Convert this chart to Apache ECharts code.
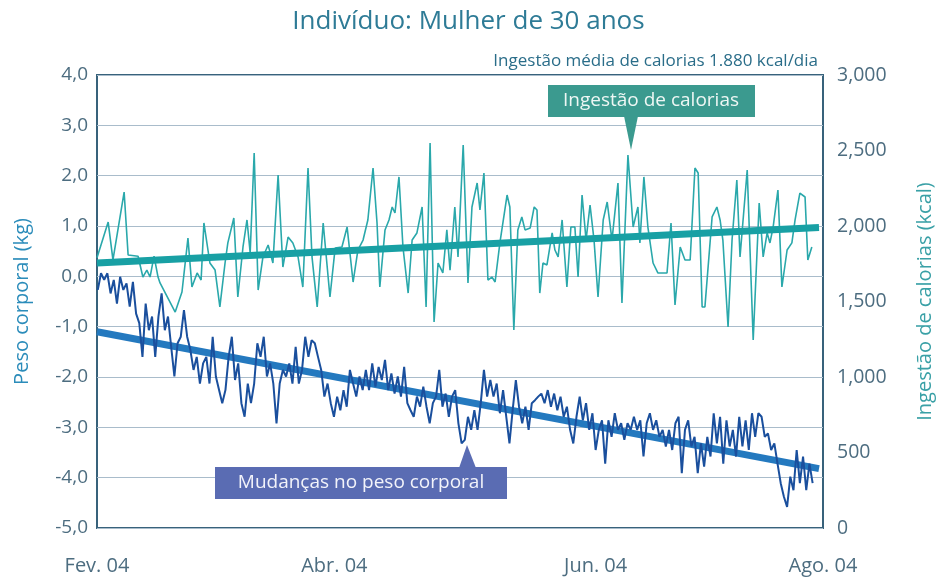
<!DOCTYPE html>
<html>
<head>
<meta charset="utf-8">
<script src="https://cdn.jsdelivr.net/npm/echarts@6/dist/echarts.min.js"></script>
<style>html,body{margin:0;padding:0;background:#fff}#c{width:937px;height:584px}</style>
</head>
<body>
<div id="c"></div>
<script>
// ---- DATA ----
var titleText = 'Indivíduo: Mulher de 30 anos';
var noteText = 'Ingestão média de calorias 1.880 kcal/dia';
var xTickDays = [0, 59.5, 125, 182];
var xTickLabels = ['Fev. 04', 'Abr. 04', 'Jun. 04', 'Ago. 04'];

// calorie intake (kcal), vertices: day index since 1 Feb 2004
var calDays = [
  0,2.8,4,6.8,7.8,10.3,11.5,12.5,13.3,14.3,
  15.3,15.8,19.6,21.3,22.8,23.8,25.1,26.1,26.8,28.3,
  29.6,30.8,32.1,32.8,34.3,35.3,36.6,37.6,38.4,39.4,
  40.4,41.6,42.9,44.1,45.4,46.6,47.9,49.1,50.4,51.6,
  52.9,53.9,55.2,56.7,58.4,59.7,61.4,62.7,64.2,65.4,
  66.7,67.9,69.2,70.2,70.9,72.2,73.2,74,74.7,75.7,
  76.7,78,79,80.2,81.5,82.5,83.5,84.5,85.5,86.7,
  87.7,88.5,89.7,90.5,91.8,93,94,95.3,96,97,
  98,99,99.8,101,102.8,103.5,104.5,105.5,106.5,107.3,
  108.6,109.6,110.3,111,111.8,112.8,114.1,114.8,115.6,116.6,
  117.8,118.8,119.8,120.6,121.6,122.6,123.6,124.6,125.6,126.9,
  127.9,129.1,130.6,131.6,133.1,134.4,135.6,136.1,137.1,138.1,
  139.4,140.6,142.9,143.9,144.9,146.2,147.4,148.7,149.9,150.7,
  151.7,152.4,154.2,155.4,156.2,156.9,158.2,159.2,160.4,161.2,
  163,164.5,166,167,168,168.7,169.5,170.7,171.7,173,
  174.2,175,176.2,177.5,178.2,179.2
];
var calKcal = [
  1790,2026,1775,2225,1808,1800,1662,1708,1662,1800,
  1662,1623,1430,1563,1920,1596,1689,1642,2020,1755,
  1708,1464,1755,1888,2053,1530,1861,2040,1821,2484,
  1576,1795,1874,1755,2338,1728,1927,1887,1795,1596,
  2384,1795,1464,2020,1530,1854,1861,1993,1629,1841,
  1907,2040,2384,2020,1596,1974,2040,2126,2086,2325,
  1861,1556,1907,1954,2126,1464,2550,1364,1755,1689,
  1974,1708,2126,1795,2537,1623,2126,2285,2106,2351,
  1642,1662,1629,1888,2205,2126,1311,1974,2060,1974,
  1987,2126,2106,1556,1755,1742,1954,1841,1795,2040,
  1596,1993,1993,1662,2205,1907,2139,1907,1530,2040,
  2159,1907,2285,1490,2470,1993,2126,1888,2325,1993,
  1755,1689,1689,2020,1477,1861,1775,1775,2384,2351,
  1464,1464,2060,2126,2040,1907,1331,1907,2305,1795,
  2371,1245,2152,1795,1954,1888,1993,2238,1596,1841,
  1888,2040,2218,2192,1775,1861
];
var calTrendDays = [0, 181];
var calTrendKcal = [1755, 1990];

// body weight change (kg), evenly spaced measurements from day 0.2 to day 179.4
var weightFirstDay = 0.2, weightLastDay = 179.4;
var weightKg = [
  -0.27,0.06,-0.07,0.06,-0.34,-0.07,-0.54,-0.01,-0.27,-0.14,
  -0.60,-0.11,-0.74,-0.93,-1.60,-0.54,-1.07,-0.80,-1.60,-0.80,
  -0.34,-1.07,-0.80,-1.40,-1.99,-1.33,-1.20,-0.67,-1.20,-1.46,
  -1.86,-1.60,-2.13,-1.73,-1.60,-2.13,-1.20,-1.99,-2.26,-2.52,
  -2.26,-1.60,-1.20,-2.06,-1.73,-2.52,-2.79,-2.13,-2.52,-2.13,
  -1.33,-1.60,-1.20,-1.99,-1.73,-2.13,-2.92,
  -2.13,-1.86,-1.99,-1.73,-2.13,-1.40,-2.13,-1.86,-1.20,-1.60,
  -1.27,-1.33,-1.60,-1.86,-2.39,-2.13,-2.52,-2.79,-2.39,-2.66,
  -2.26,-2.59,-1.86,-2.13,-2.39,-1.99,-2.26,-1.86,-2.26,-1.73,
  -2.19,-1.80,-2.06,-1.66,-2.26,-1.93,-2.33,-1.99,-2.39,-1.80,
  -2.52,-2.66,-2.79,-2.39,-2.59,-2.19,-2.59,-2.92,-2.52,-2.39,
  -1.86,-2.59,-2.33,-2.79,
  -2.39,-2.26,-2.92,-3.32,-3.25,-2.79,-3.05,-2.66,-3.05,-2.52,
  -1.86,-2.39,-2.06,-2.39,-2.13,-2.72,-2.26,-2.79,-3.32,-2.66,
  -2.06,-2.59,-2.92,-2.59,-3.05,-2.52,-2.46,-2.39,-2.33,-2.52,
  -2.26,-2.59,-2.33,-2.66,-2.39,-2.79,-2.59,-3.05,-3.32,-2.79,
  -2.39,-2.86,-2.52,-3.05,-2.72,-3.45,-3.05,-2.86,-3.72,-2.86,
  -3.19,-2.72,-3.05,-2.92,-3.25,-2.92,
  -3.05,-2.79,-3.05,-2.86,-3.58,-2.92,-2.72,-3.05,-2.86,-3.19,
  -3.05,-3.38,-3.05,-3.45,-2.92,-2.79,-3.91,-3.05,-2.86,-3.38,
  -3.19,-3.91,-3.32,-3.78,-3.19,-3.58,-2.72,-3.32,-2.79,-3.72,
  -2.86,-3.38,-3.05,-3.58,-2.79,-3.38,-2.86,-3.45,-2.72,-3.19,
  -2.72,-2.79,-3.19,-3.12,-3.45,-3.32,-3.72,-4.11,-4.38,-4.58,
  -3.98,-4.25,-3.45,-4.11,-3.58,-4.25,-3.72,-4.11
];
var weightTrendDays = [0, 181];
var weightTrendKg = [-1.1, -3.82];

// ---- BUILD ----
function pairs(xs, ys){ return xs.map(function(x,i){ return [x, ys[i]]; }); }
var wStep = (weightLastDay - weightFirstDay) / (weightKg.length - 1);
var weightData = weightKg.map(function(v,i){ return [weightFirstDay + i*wStep, v]; });

var FONT = 'Open Sans';
var labelColor = '#4d6d80';
var chart = echarts.init(document.getElementById('c'), null, {renderer:'canvas'});
chart.setOption({
  animation: false,
  backgroundColor: '#ffffff',
  title: {
    text: titleText, left: 'center', top: 4,
    textStyle: {fontFamily: FONT, fontSize: 26, fontWeight: 'normal', color: '#2e7b96'}
  },
  grid: {left: 97, right: 114, top: 75, bottom: 56, outerBoundsMode: 'none', containLabel: false,
    show: true, borderColor: '#38627b', borderWidth: 2, backgroundColor: 'transparent'},
  xAxis: {
    type: 'value', min: 0, max: 182,
    axisLine: {show: false}, axisTick: {show: false}, splitLine: {show: false},
    axisLabel: {
      customValues: xTickDays, margin: 28, fontFamily: FONT, fontSize: 20, color: labelColor,
      formatter: function(v){ var i = xTickDays.indexOf(v); return i >= 0 ? xTickLabels[i] : ''; }
    }
  },
  yAxis: [{
    type: 'value', min: -5, max: 4, interval: 1,
    name: 'Peso corporal (kg)', nameLocation: 'middle', nameGap: 65,
    nameTextStyle: {fontFamily: FONT, fontSize: 20, color: '#2b8cba'},
    axisLine: {show: false}, axisTick: {show: false},
    splitLine: {show: true, lineStyle: {color: '#a9bccb', width: 1}},
    axisLabel: {margin: 9, fontFamily: FONT, fontSize: 19, color: labelColor,
      formatter: function(v){ return v.toFixed(1).replace('.', ','); }}
  }, {
    type: 'value', min: 0, max: 3000, interval: 500, position: 'right',
    name: 'Ingestão de calorias (kcal)', nameLocation: 'middle', nameGap: 92,
    nameTextStyle: {fontFamily: FONT, fontSize: 20, color: '#39a0a6'},
    axisLine: {show: false}, axisTick: {show: false}, splitLine: {show: false},
    axisLabel: {margin: 14, fontFamily: FONT, fontSize: 19.5, color: labelColor,
      formatter: function(v){ return v === 0 ? '0' : String(v).replace(/\B(?=(\d{3})+(?!\d))/g, ','); }}
  }],
  series: [
    {type: 'line', name: 'pesoTend', yAxisIndex: 0, data: pairs(weightTrendDays, weightTrendKg),
      symbol: 'none', lineStyle: {color: '#2479bf', width: 7}, z: 2},
    {type: 'line', name: 'peso', yAxisIndex: 0, data: weightData,
      symbol: 'none', lineStyle: {color: '#1a4f9d', width: 2}, z: 3},
    {type: 'line', name: 'cal', yAxisIndex: 1, data: pairs(calDays, calKcal),
      symbol: 'none', lineStyle: {color: '#2aa8ab', width: 1.6}, z: 4},
    {type: 'line', name: 'calTend', yAxisIndex: 1, data: pairs(calTrendDays, calTrendKcal),
      symbol: 'none', lineStyle: {color: '#18a0a4', width: 7}, z: 5}
  ],
  graphic: [
    {type: 'text', right: 937 - 818, top: 53, z: 10,
      style: {text: noteText, fontFamily: FONT, fontSize: 17, fill: '#2a6d89'}},
    {type: 'rect', shape: {x: 548, y: 85, width: 207, height: 32}, style: {fill: '#3b9a8f'}, z: 10},
    {type: 'polygon', shape: {points: [[624,116],[638,116],[631,150]]}, style: {fill: '#3b9a8f'}, z: 10},
    {type: 'text', x: 651, y: 101, z: 11,
      style: {text: 'Ingestão de calorias', fontFamily: FONT, fontSize: 19, fill: '#eef7f4', align: 'center', verticalAlign: 'middle'}},
    {type: 'rect', shape: {x: 215, y: 467, width: 292, height: 32}, style: {fill: '#5a6cb3'}, z: 10},
    {type: 'polygon', shape: {points: [[459,468],[476,468],[467,445]]}, style: {fill: '#5a6cb3'}, z: 10},
    {type: 'text', x: 361, y: 483, z: 11,
      style: {text: 'Mudanças no peso corporal', fontFamily: FONT, fontSize: 19, fill: '#f2f3fa', align: 'center', verticalAlign: 'middle'}}
  ]
});
</script>
</body>
</html>
